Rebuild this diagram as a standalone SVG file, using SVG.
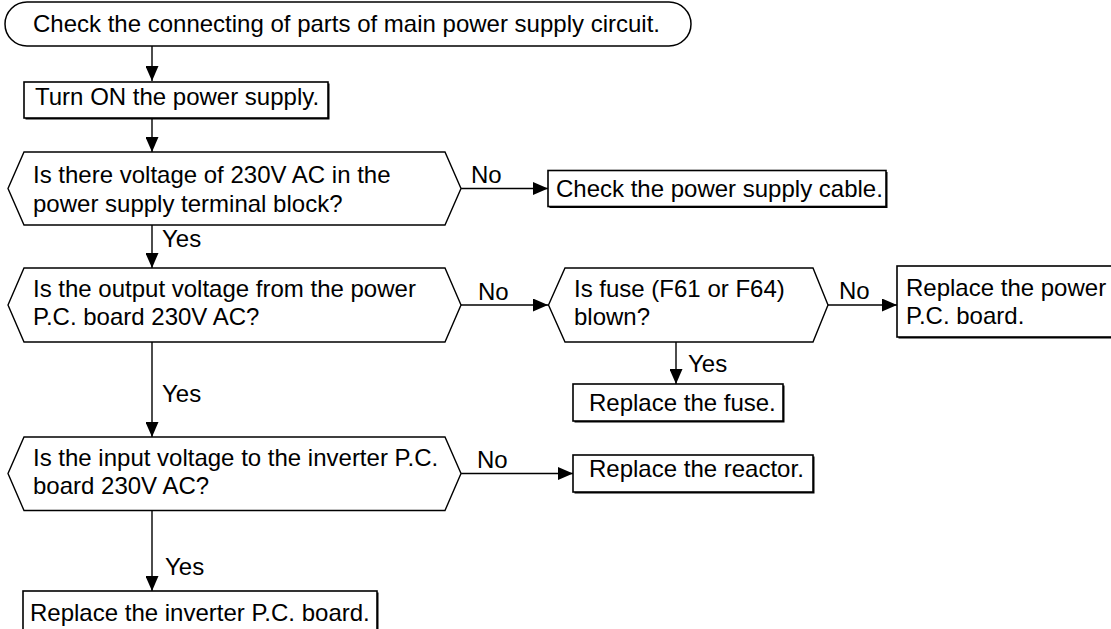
<svg xmlns="http://www.w3.org/2000/svg" width="1111" height="629" viewBox="0 0 1111 629">
<defs>
<style>
text{font-family:"Liberation Sans",Arial,Helvetica,sans-serif;font-size:24px;fill:#000}
.term{fill:#fff;stroke:#000;stroke-width:1.5}
.dec{fill:#fff;stroke:#000;stroke-width:1.4}
.box{fill:#fff;stroke:#000;stroke-width:1.6}
.shadow{fill:#000}
.line{fill:none;stroke:#000;stroke-width:1.4;marker-end:url(#ah)}
</style>
<marker id="ah" viewBox="0 0 15 13" refX="15" refY="6.5" markerWidth="15" markerHeight="13" markerUnits="userSpaceOnUse" orient="auto">
<path d="M0,0 L15,6.5 L0,13 z" fill="#000"/>
</marker>
</defs>
<rect width="1111" height="629" fill="#fff"/>

<g id="connectors">
<line class="line" x1="152" y1="46" x2="152" y2="81"/>
<line class="line" x1="152" y1="119" x2="152" y2="152"/>
<line class="line" x1="461" y1="188.5" x2="548" y2="188.5"/>
<line class="line" x1="152" y1="225" x2="152" y2="268"/>
<line class="line" x1="461" y1="305" x2="548" y2="305"/>
<line class="line" x1="828" y1="305" x2="897" y2="305"/>
<line class="line" x1="676" y1="342" x2="676" y2="384"/>
<line class="line" x1="152" y1="342" x2="152" y2="437"/>
<line class="line" x1="461" y1="473.5" x2="573" y2="473.5"/>
<line class="line" x1="152" y1="510.5" x2="152" y2="591"/>
<text x="471" y="183">No</text>
<text x="162" y="247">Yes</text>
<text x="478" y="300">No</text>
<text x="839" y="299">No</text>
<text x="688" y="372">Yes</text>
<text x="162" y="402">Yes</text>
<text x="477" y="468">No</text>
<text x="165" y="575">Yes</text>
</g>

<g id="start">
<rect class="term" x="5" y="2" width="686" height="44" rx="22" ry="22"/>
<text x="33" y="32">Check the connecting of parts of main power supply circuit.</text>
</g>

<g id="turn-on">
<rect class="shadow" x="25.5" y="83.5" width="304" height="36"/>
<rect class="box" x="24" y="82" width="304" height="36"/>
<text x="35" y="105">Turn ON the power supply.</text>
</g>

<g id="q-terminal">
<polygon class="dec" points="8,188.5 24,152 445,152 461,188.5 445,225 24,225"/>
<text x="33" y="183">Is there voltage of 230V AC in the</text>
<text x="33" y="212">power supply terminal block?</text>
</g>

<g id="check-cable">
<rect class="shadow" x="549.5" y="172" width="338" height="36"/>
<rect class="box" x="548" y="170.5" width="338" height="36"/>
<text x="556" y="197">Check the power supply cable.</text>
</g>

<g id="q-output">
<polygon class="dec" points="8,305 24,268 445,268 461,305 445,342 24,342"/>
<text x="33" y="297">Is the output voltage from the power</text>
<text x="33" y="325">P.C. board 230V AC?</text>
</g>

<g id="q-fuse">
<polygon class="dec" points="548.5,305 565,268 813,268 828,305 813,342 565,342"/>
<text x="574" y="297">Is fuse (F61 or F64)</text>
<text x="574" y="325">blown?</text>
</g>

<g id="replace-power">
<rect class="shadow" x="898.5" y="267.5" width="240" height="71"/>
<rect class="box" x="897" y="266" width="240" height="71"/>
<text x="906" y="296">Replace the power</text>
<text x="906" y="324">P.C. board.</text>
</g>

<g id="replace-fuse">
<rect class="shadow" x="574.5" y="385.5" width="210" height="37"/>
<rect class="box" x="573" y="384" width="210" height="37"/>
<text x="589" y="411">Replace the fuse.</text>
</g>

<g id="q-input">
<polygon class="dec" points="8,473.5 24,437 445,437 461,473.5 445,510.5 24,510.5"/>
<text x="33" y="466">Is the input voltage to the inverter P.C.</text>
<text x="33" y="494">board 230V AC?</text>
</g>

<g id="replace-reactor">
<rect class="shadow" x="574.5" y="456.5" width="240" height="37"/>
<rect class="box" x="573" y="455" width="240" height="37"/>
<text x="589" y="477">Replace the reactor.</text>
</g>

<g id="replace-inverter">
<rect class="shadow" x="24.5" y="592.5" width="354" height="60"/>
<rect class="box" x="23" y="591" width="354" height="60"/>
<text x="30" y="621">Replace the inverter P.C. board.</text>
</g>
</svg>
